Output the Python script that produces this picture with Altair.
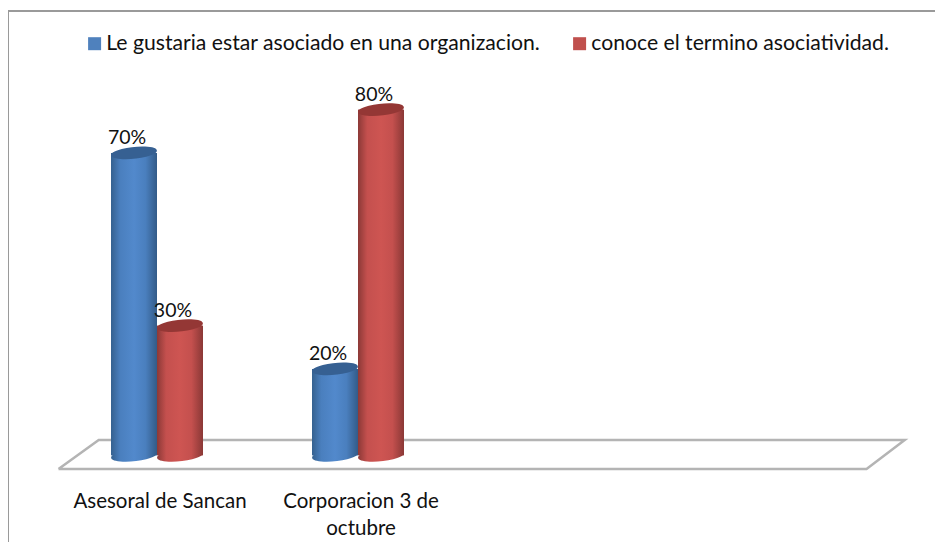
import altair as alt
import pandas as pd

categories = ["Asesoral de Sancan", "Corporacion 3 de\noctubre"]
series = ["Le gustaria estar asociado en una organizacion.", "conoce el termino asociatividad."]
series_a = [0.70, 0.20]
series_b = [0.30, 0.80]
labels_a = ["70%", "20%"]
labels_b = ["30%", "80%"]

FONT = "Lato"
HALF = 0.1144
ELLIPSE = "M-0.497,0.052 A0.5,0.125,-6,1,1,0.497,-0.052 A0.5,0.125,-6,1,1,-0.497,0.052 Z"
ELL_SIZE = 4 * 46 * 46

rows = []
for i, c in enumerate(categories):
    rows.append(dict(cat=c, i=i, s=series[0], sid=0, v=series_a[i], lab=labels_a[i], x0=i - 2 * HALF, x1=i, xc=i - HALF, base=0))
    rows.append(dict(cat=c, i=i, s=series[1], sid=1, v=series_b[i], lab=labels_b[i], x0=i, x1=i + 2 * HALF, xc=i + HALF, base=0))
df = pd.DataFrame(rows)

floor = pd.DataFrame(
    dict(
        fx=[-0.49, 3.53, 3.72, -0.29, -0.49],
        fy=[-0.0317, -0.0317, 0.0354, 0.0354, -0.0317],
        o=[0, 1, 2, 3, 4],
    )
)

xs = alt.Scale(domain=[0, 1], range=[149, 350], clamp=False, nice=False, zero=False)
ys = alt.Scale(domain=[0, 1], range=[447.3, 15.3], clamp=False, nice=False, zero=False)
X = lambda f: alt.X(f, type="quantitative", scale=xs, axis=None)
Y = lambda f: alt.Y(f, type="quantitative", scale=ys, axis=None)


def grad(dark_l, mid, light, dark_r):
    return alt.Gradient(
        gradient="linear", x1=0, x2=1, y1=0, y2=0,
        stops=[
            alt.GradientStop(color=dark_l, offset=0),
            alt.GradientStop(color=mid, offset=0.2),
            alt.GradientStop(color=light, offset=0.5),
            alt.GradientStop(color=mid, offset=0.75),
            alt.GradientStop(color=dark_r, offset=1),
        ],
    )


styles = [
    (grad("#35618f", "#4a7fbe", "#5289cc", "#335b88"), "#366092"),
    (grad("#8c3937", "#c4504e", "#ce5552", "#8a3836"), "#943735"),
]

layers = []
layers.append(
    alt.Chart(floor)
    .mark_line(color="#b4b4b4", strokeWidth=2.5, strokeJoin="miter")
    .encode(x=X("fx"), y=Y("fy"), order="o:Q")
)
layers.append(
    alt.Chart(df)
    .mark_bar()
    .encode(
        x=X("x0"), x2="x1:Q", y=Y("base"), y2="v:Q",
        color=alt.Color(
            "s:N",
            scale=alt.Scale(domain=series, range=["#4f81bd", "#c0504d"]),
            legend=alt.Legend(
                title=None, orient="none", legendX=76, legendY=25, direction="horizontal", columns=2,
                symbolType="square", symbolSize=169, symbolStrokeWidth=0, labelFont=FONT, labelFontSize=21.2,
                labelColor="#111111", labelOffset=1, columnPadding=28, labelLimit=600,
            ),
        ),
    )
)
for sid, (g, top) in enumerate(styles):
    d = df[df.sid == sid]
    layers.append(
        alt.Chart(d).mark_point(shape=ELLIPSE, filled=True, fill=g, stroke=None, opacity=1, size=ELL_SIZE)
        .encode(x=X("xc"), y=Y("base"))
    )
    layers.append(
        alt.Chart(d).mark_bar(fill=g).encode(x=X("x0"), x2="x1:Q", y=Y("base"), y2="v:Q")
    )
    layers.append(
        alt.Chart(d).mark_point(shape=ELLIPSE, filled=True, fill=top, stroke=None, opacity=1, size=ELL_SIZE)
        .encode(x=X("xc"), y=Y("v"))
    )

layers.append(
    alt.Chart(df)
    .mark_text(font=FONT, fontSize=19.5, color="#111111", dx=-7, dy=-14.5, baseline="middle")
    .encode(x=X("xc"), y=Y("v"), text="lab:N")
)
layers.append(
    alt.Chart(df[df.sid == 0])
    .mark_text(font=FONT, fontSize=20.5, color="#111111", lineBreak="\n", lineHeight=27, dx=3, dy=47, baseline="middle")
    .encode(x=alt.X("i", type="quantitative", scale=xs, axis=None), y=Y("base"), text="cat:N")
)
layers.append(
    alt.Chart(pd.DataFrame(dict(a=[0])))
    .mark_rule(color="#9a9a9a", strokeWidth=2)
    .encode(x=alt.value(0), y=alt.value(3), y2=alt.value(534))
)
layers.append(
    alt.Chart(pd.DataFrame(dict(a=[0])))
    .mark_rule(color="#9a9a9a", strokeWidth=2)
    .encode(y=alt.value(3), x=alt.value(0), x2=alt.value(927))
)

chart = (
    alt.layer(*layers)
    .properties(width=927, height=534, padding=0, autosize=alt.AutoSizeParams(type="none"), background="white")
    .configure_view(stroke=None)
)
chart.save("out.html", embed_options={"renderer": "svg", "actions": False})
